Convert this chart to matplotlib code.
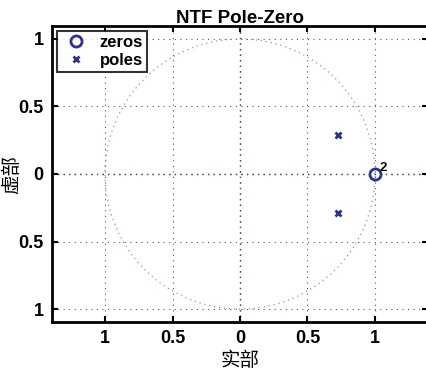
import numpy as np
import matplotlib
matplotlib.use("Agg")
import matplotlib.pyplot as plt

plt.rcParams["font.family"] = ["Liberation Sans", "Noto Sans CJK SC", "DejaVu Sans"]

# zeros and poles of the NTF
zeros_re = [1.0]
zeros_im = [0.0]
zero_mult = ["2"]
poles_re = [0.724, 0.724]
poles_im = [0.287, -0.287]

tick_vals = [-1, -0.5, 0, 0.5, 1]
tick_labels = ["1", "0.5", "0", "0.5", "1"]

blue = "#2e3192"

fig = plt.figure(figsize=(4.27, 3.76), dpi=100)
ax = fig.add_axes([52 / 427, 1 - 322 / 376, 376 / 427, 296 / 376])

# unit circle and axis lines
t = np.linspace(0, 2 * np.pi, 400)
ax.plot(np.cos(t), np.sin(t), ls=(0, (1, 3)), color="#8a8fcc", lw=0.9)
ax.axhline(0, ls=(0, (1, 3)), color=blue, lw=1.0, zorder=1)
ax.axvline(0, ls=(0, (1, 3)), color=blue, lw=1.0, zorder=1)

ax.plot(zeros_re, zeros_im, "o", mfc="none", mec=blue, mew=2, ms=8, label="zeros")
ax.plot(poles_re, poles_im, "x", color=blue, mew=2, ms=5, label="poles")
for xr, yi, m in zip(zeros_re, zeros_im, zero_mult):
    ax.text(xr + 0.035, yi + 0.02, m, fontsize=9.5, fontweight="bold")

ax.set_xlim(-1.393, 1.393)
ax.set_ylim(-1.096, 1.096)
ax.set_xticks(tick_vals)
ax.set_xticklabels(tick_labels, fontsize=13, fontweight="bold")
ax.set_yticks(tick_vals)
ax.set_yticklabels(tick_labels, fontsize=13, fontweight="bold")
ax.tick_params(direction="in", length=4, width=1.5, top=True, right=True, pad=6)
ax.grid(True, ls=(0, (1, 4)), color="#555555", lw=0.8)

for s in ax.spines.values():
    s.set_linewidth(2)

ax.set_title("NTF Pole-Zero", fontsize=13.5, fontweight="bold", pad=2)
ax.set_xlabel("实部", fontsize=14, family=["Noto Sans CJK SC"], va="center")
ax.set_ylabel("虚部", fontsize=14, family=["Noto Sans CJK SC"], va="center")
ax.xaxis.set_label_coords(0.5, -0.13)
ax.yaxis.set_label_coords(-0.106, 0.5)

leg = ax.legend(loc="upper left", prop={"weight": "bold", "size": 12}, fancybox=False,
                edgecolor="black", handlelength=1.8, handletextpad=0.5,
                borderaxespad=0.3, borderpad=0.25, labelspacing=0.15)
leg.get_frame().set_linewidth(1.5)

fig.savefig("out.png", dpi=100)
